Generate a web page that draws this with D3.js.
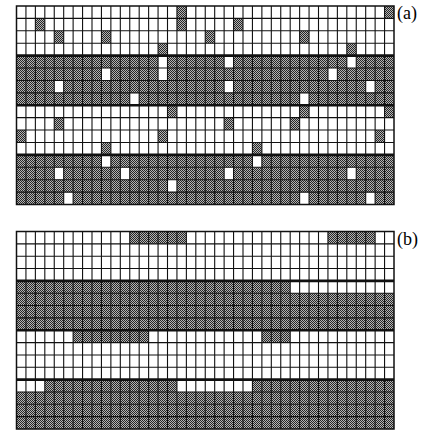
<!DOCTYPE html>
<html>
<head>
<meta charset="utf-8">
<script src="https://cdn.jsdelivr.net/npm/d3@7"></script>
<style>
  html, body { margin: 0; padding: 0; background: #fff; }
  svg { display: block; }
</style>
</head>
<body>
<svg id="chart" width="424" height="433"></svg>
<script>
// Cell states for each lattice: one string per row, 40 columns, "1" = shaded cell.
const panelALabel = "(a)";
const panelARows = [
  "0000000000000000010000000000000000000001",
  "0010000000000000010000010000000000000000",
  "0000100001000000000010000000001000000000",
  "0000000000000001000000000000000000010000",
  "1111111111111110111111011111111111101111",
  "1111111110111110111111111111111110111111",
  "1111011111111111111111011111111111111011",
  "1111111111110111111111111111110111111111",
  "0000000000000000100000000000001000000001",
  "0000100000000000000000100000010000000000",
  "1000000000000001000000000000000000000010",
  "0000000001000000000000000100000000000000",
  "1111111110111111111111111011111111111111",
  "1111011111101111111111011111111111101111",
  "1111111111111111011111111111111111111111",
  "1111101111111111111111111111110111111011"
];

const panelBLabel = "(b)";
const panelBRows = [
  "0000000000001111110000000000000001111100",
  "0000000000000000000000000000000000000000",
  "0000000000000000000000000000000000000000",
  "0000000000000000000000000000000000000000",
  "1111111111111111111111111111100000000000",
  "1111111111111111111111111111111111111111",
  "1111111111111111111111111111111111111111",
  "1111111111111111111111111111111111111111",
  "0000001111111100000000000011100000000000",
  "0000000000000000000000000000000000000000",
  "0000000000000000000000000000000000000000",
  "0000000000000000000000000000000000000000",
  "0001111111111111100000000111111111111111",
  "1111111111111111111111111111111111111111",
  "1111111111111111111111111111111111111111",
  "1111111111111111111111111111111111111111"
];

const nCols = 40;
const nRows = 16;
const bandSize = 4;

const svg = d3.select("#chart");

// Halftone-like fill for shaded cells
const defs = svg.append("defs");
const pat = defs.append("pattern")
  .attr("id", "halftone")
  .attr("patternUnits", "userSpaceOnUse")
  .attr("width", 2).attr("height", 2);
pat.append("rect").attr("width", 2).attr("height", 2).attr("fill", "#b4b4b4");
pat.append("rect").attr("x", 0).attr("y", 0).attr("width", 1).attr("height", 1).attr("fill", "#262626");
pat.append("rect").attr("x", 1).attr("y", 1).attr("width", 1).attr("height", 1).attr("fill", "#262626");

function drawPanel(rows, label, top, bottom) {
  const left = 16.5, right = 394;
  const x = d3.scaleLinear().domain([0, nCols]).range([left, right]);
  const y = d3.scaleLinear().domain([0, nRows]).range([top, bottom]);

  const g = svg.append("g");

  const cells = [];
  rows.forEach((r, ri) => {
    r.split("").forEach((c, ci) => {
      cells.push({ row: ri, col: ci, on: c === "1" });
    });
  });

  g.selectAll("rect.cell")
    .data(cells.filter(d => d.on))
    .join("rect")
    .attr("class", "cell")
    .attr("x", d => x(d.col))
    .attr("y", d => y(d.row))
    .attr("width", d => x(d.col + 1) - x(d.col))
    .attr("height", d => y(d.row + 1) - y(d.row))
    .attr("fill", "url(#halftone)");

  // vertical grid lines
  g.selectAll("line.v")
    .data(d3.range(1, nCols))
    .join("line")
    .attr("x1", d => x(d)).attr("x2", d => x(d))
    .attr("y1", top).attr("y2", bottom)
    .attr("stroke", "#111")
    .attr("stroke-width", 1.1);

  // horizontal grid lines, heavier between bands
  g.selectAll("line.h")
    .data(d3.range(1, nRows))
    .join("line")
    .attr("x1", left).attr("x2", right)
    .attr("y1", d => y(d)).attr("y2", d => y(d))
    .attr("stroke", "#111")
    .attr("stroke-width", d => d % bandSize === 0 ? 2.6 : 1.1);

  g.append("rect")
    .attr("x", left).attr("y", top)
    .attr("width", right - left).attr("height", bottom - top)
    .attr("fill", "none")
    .attr("stroke", "#111")
    .attr("stroke-width", 1.5);

  svg.append("text")
    .attr("x", 397)
    .attr("y", top + 13)
    .attr("font-family", "'Liberation Serif', 'Times New Roman', serif")
    .attr("font-size", 18)
    .attr("fill", "#000")
    .text(label);
}

drawPanel(panelARows, panelALabel, 6, 204.5);
drawPanel(panelBRows, panelBLabel, 231.5, 429);
</script>
</body>
</html>
